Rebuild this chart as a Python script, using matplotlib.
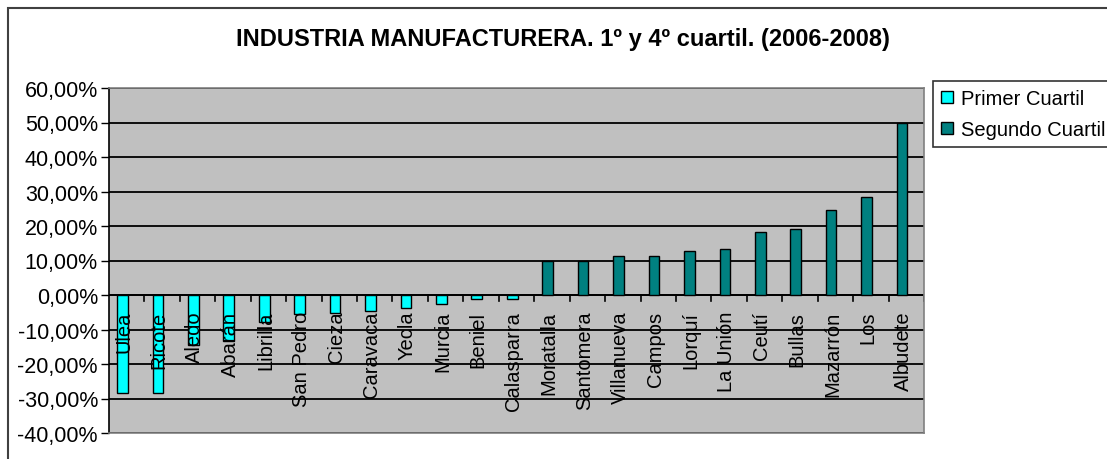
#!/usr/bin/env python3
"""
Industria manufacturera: primer y cuarto cuartil por municipio (2006-2008).
"""

import numpy as np
import matplotlib
matplotlib.use("Agg")
import matplotlib.pyplot as plt
from matplotlib.patches import Patch, Rectangle
from matplotlib.ticker import FuncFormatter, MultipleLocator

plt.rcParams["font.family"] = ["Liberation Sans", "DejaVu Sans"]

# Primer cuartil (valores negativos)
primer_names = ["Ulea", "Ricote", "Aledo", "Abarán", "Librilla", "San Pedro",
                "Cieza", "Caravaca", "Yecla", "Murcia", "Beniel", "Calasparra"]
primer_values = [-28.3, -28.3, -14.5, -13.3, -7.8, -5.6,
                 -5.1, -4.7, -3.8, -2.6, -1.3, -1.3]

# Segundo cuartil (valores positivos)
segundo_names = ["Moratalla", "Santomera", "Villanueva", "Campos", "Lorquí",
                 "La Unión", "Ceutí", "Bullas", "Mazarrón", "Los", "Albudete"]
segundo_values = [10.0, 10.0, 11.3, 11.3, 12.7, 13.4, 18.2, 19.0, 24.6, 28.4, 50.0]

W, H = 1107, 460
fig = plt.figure(figsize=(W / 100, H / 100), dpi=100)
ax = fig.add_axes([109 / W, 1 - 434 / H, (924 - 109) / W, (434 - 89) / H])
ax.set_facecolor("#C0C0C0")

n1, n2 = len(primer_values), len(segundo_values)
x1 = np.arange(n1) - 0.12
x2 = np.arange(n1, n1 + n2) - 0.12
bw = 0.3
ax.bar(x1, primer_values, width=bw, color="#00FFFF", edgecolor="black",
       linewidth=1, zorder=3, label="Primer Cuartil")
ax.bar(x2, segundo_values, width=bw, color="#008080", edgecolor="black",
       linewidth=1, zorder=3, label="Segundo Cuartil")

ax.set_xlim(-0.5, n1 + n2 - 0.5)
ax.set_ylim(-40, 60)
ax.yaxis.set_major_locator(MultipleLocator(10))
ax.yaxis.set_major_formatter(FuncFormatter(lambda v, p: f"{v:.2f}%".replace(".", ",")))
ax.tick_params(axis="y", labelsize=15.5, length=6, width=1, direction="out", pad=2)
ax.grid(axis="y", color="black", linewidth=1.3, zorder=1)
ax.set_axisbelow(True)

# category tick marks along the zero line
ax.set_xticks([])
ax.axhline(0, color="black", linewidth=1.3, zorder=2)
for b in np.arange(n1 + n2) + 0.5:
    ax.plot([b, b], [0, -1.7], color="black", linewidth=1.2, zorder=2)

names = primer_names + segundo_names
for i, name in enumerate(names):
    ax.text(i - 0.08, -4.6, name, rotation=90, ha="center", va="top",
            fontsize=14.5, zorder=4)

for s in ["top", "right", "bottom"]:
    ax.spines[s].set_color("#808080")
    ax.spines[s].set_linewidth(1.2)
ax.spines["left"].set_color("black")
ax.spines["left"].set_linewidth(1.2)

fig.text(563 / W, 1 - 40 / H, "INDUSTRIA MANUFACTURERA. 1º y 4º cuartil. (2006-2008)",
         ha="center", va="center", fontsize=17, weight="bold")

handles = [Patch(facecolor="#00FFFF", edgecolor="black", label="Primer Cuartil"),
           Patch(facecolor="#008080", edgecolor="black", label="Segundo Cuartil")]
leg = fig.legend(handles=handles, loc="upper left",
                 bbox_to_anchor=(933 / W, 1 - 82 / H), fontsize=14.5,
                 frameon=True, fancybox=False, edgecolor="black",
                 handlelength=0.6, handleheight=0.6, handletextpad=0.4,
                 labelspacing=0.6, borderpad=0.4, borderaxespad=0)
leg.get_frame().set_linewidth(1.2)

# outer chart frame (cut off on right and bottom)
fig.add_artist(Rectangle((8 / W, -0.2), 1.5, 1.2 - 9 / H, transform=fig.transFigure,
                         fill=False, edgecolor="#404040", linewidth=1.5))

fig.savefig("out.png", dpi=100)
